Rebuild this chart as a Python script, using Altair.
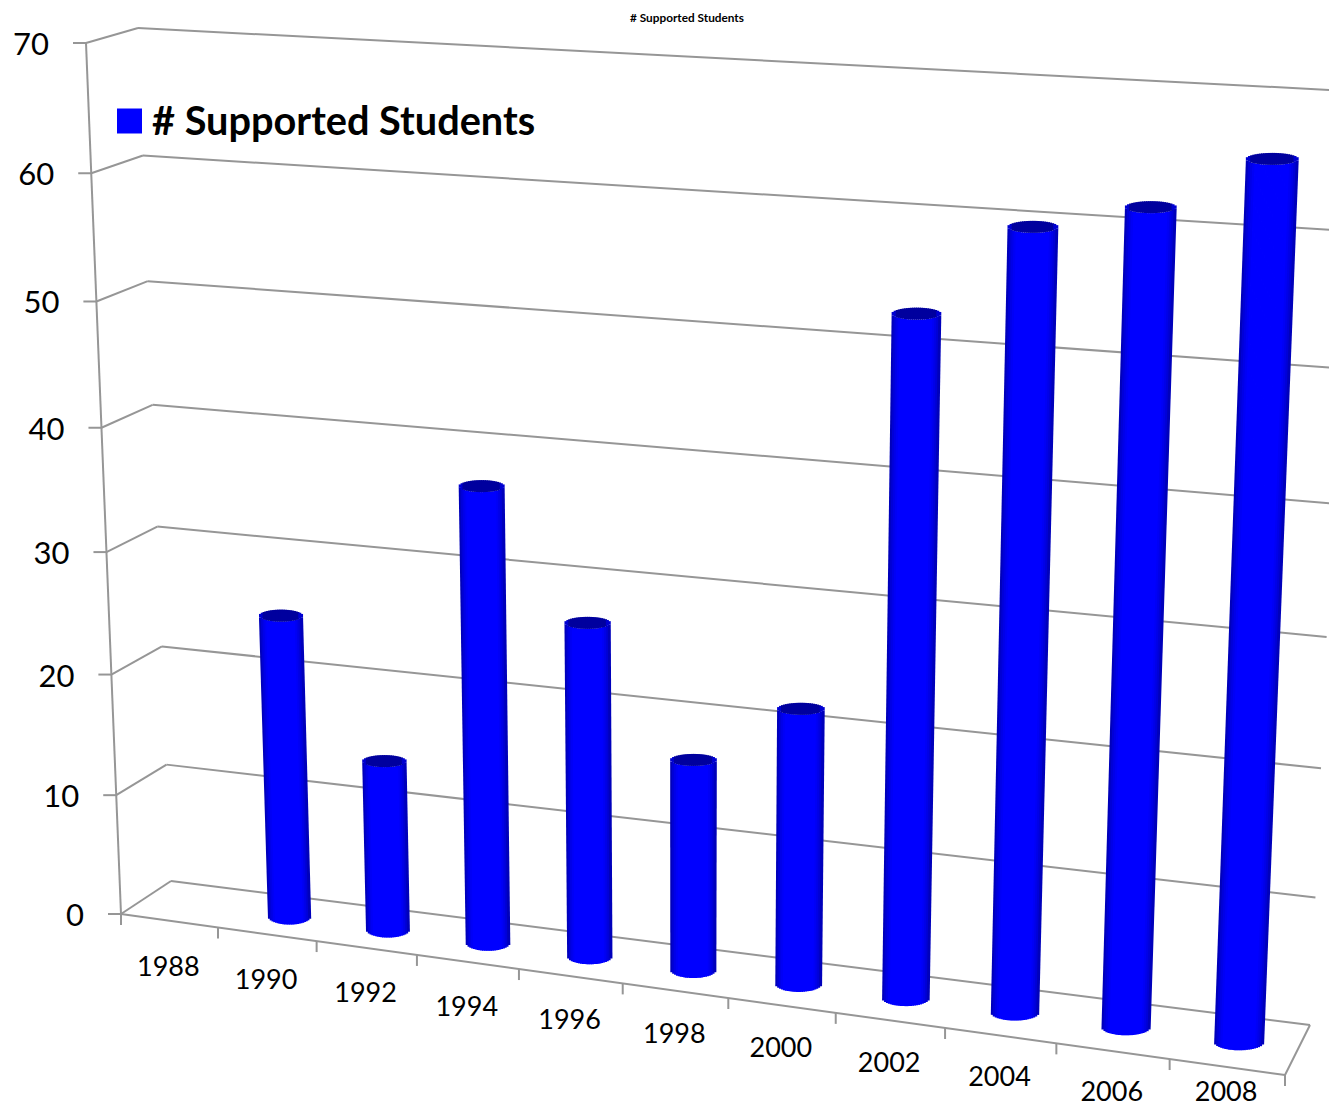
import math
import altair as alt
import pandas as pd

years = [1988, 1990, 1992, 1994, 1996, 1998, 2000, 2002, 2004, 2006, 2008]
students = [0, 25, 14, 37, 27, 17, 22, 53, 60, 62, 66]
y_ticks = [0, 10, 20, 30, 40, 50, 60, 70]
title_text = "# Supported Students"

W, H = 1337, 1118
M = 8
N = len(years)
VMAX = 70

# corners of the 3D box as seen on screen: (u, v, d) -> screen
C = {
    (0, 0, 0): (121, 914), (1, 0, 0): (1285, 1075),
    (0, 1, 0): (86, 43), (1, 1, 0): (1323, 121),
    (0, 0, 1): (171, 881), (1, 0, 1): (1310, 1025),
    (0, 1, 1): (138, 28), (1, 1, 1): (1350, 91),
}


def warp(t, k):
    return t / (t + k * (1 - t))


def P(u, v, d):
    """Perspective projection of category position u (0-1), value v, depth d."""
    a = warp(u, 1.1)
    b = warp(v / VMAX, 1.055)
    x = y = 0.0
    for (i, j, m), (cx, cy) in C.items():
        w = (a if i else 1 - a) * (b if j else 1 - b) * (d if m else 1 - d)
        x += w * cx
        y += w * cy
    return x, y


segs = []


def seg(a, b):
    segs.append({"x": a[0], "y": a[1], "x2": b[0], "y2": b[1]})


for v in y_ticks:
    seg(P(0, v, 0), P(0, v, 1))      # side wall
    seg(P(0, v, 1), P(1, v, 1))      # back wall
    p = P(0, v, 0)
    seg((p[0] - 13, p[1]), p)        # tick
seg(P(0, 0, 0), P(0, VMAX, 0))       # value axis
seg(P(0, 0, 0), P(1, 0, 0))          # floor front edge
seg(P(1, 0, 0), P(1, 0, 1))          # floor right edge
for i in range(N + 1):
    p = P(i / N, 0, 0)
    seg(p, (p[0], p[1] + 11))
grid = pd.DataFrame(segs)

# cylinders drawn as thin vertical strips
strips = []
STRIPS = 24
for i, val in enumerate(students):
    if val <= 0:
        continue
    uc = (i + 0.49) / N
    half = 0.215 / N
    for s in range(STRIPS):
        t = -1 + 2 * (s + 0.5) / STRIPS
        arc = math.sqrt(1 - t * t)
        bl = P(uc - half, 0, 0.5)
        br = P(uc + half, 0, 0.5)
        tl = P(uc - half, val, 0.5)
        tr = P(uc + half, val, 0.5)
        f = (t + 1) / 2
        bx = bl[0] + f * (br[0] - bl[0])
        tx = tl[0] + f * (tr[0] - tl[0])
        by = (bl[1] + br[1]) / 2
        ty = (tl[1] + tr[1]) / 2
        light = 0.58 + 0.42 * min(1, arc * 1.3)
        body = "#0000%02x" % int(255 * light)
        strips.append({"x": tx, "y": ty + 6 * arc, "x2": bx, "y2": by + 8 * arc,
                       "c": body, "o": 0})
        cap = "#0000%02x" % int(255 * (0.62 if arc > 0.5 else 0.82))
        strips.append({"x": tx, "y": ty - 6 * arc, "x2": tx, "y2": ty + 6 * arc,
                       "c": cap, "o": 1})
cyl = pd.DataFrame(strips)

ylab = pd.DataFrame([{"x": P(0, v, 0)[0], "y": P(0, v, 0)[1], "t": str(v)} for v in y_ticks])
xlab = []
for i, yr in enumerate(years):
    u = (i + 0.5) / N
    p = P(u, 0, 0)
    xlab.append({"x": p[0], "y": min(p[1] + 45 - 7 * u, H - M - 20), "t": str(yr)})
xlab = pd.DataFrame(xlab)

xs = alt.Scale(domain=[M, W - M], range=[0, W - 2 * M], nice=False, zero=False)
ys = alt.Scale(domain=[M, H - M], range=[0, H - 2 * M], nice=False, zero=False)
X = alt.X("x:Q", scale=xs, axis=None)
Y = alt.Y("y:Q", scale=ys, axis=None)
FONT = "Lato"

lines = alt.Chart(grid).mark_rule(color="#969696", strokeWidth=2, clip=True).encode(
    x=X, y=Y, x2="x2:Q", y2="y2:Q")
body = alt.Chart(cyl[cyl.o == 0]).mark_rule(strokeWidth=3, clip=True).encode(
    x=X, y=Y, x2="x2:Q", y2="y2:Q", color=alt.Color("c:N", scale=None))
caps = alt.Chart(cyl[cyl.o == 1]).mark_rule(strokeWidth=3, clip=True).encode(
    x=X, y=Y, x2="x2:Q", y2="y2:Q", color=alt.Color("c:N", scale=None))
ytext = alt.Chart(ylab).mark_text(font=FONT, fontSize=31, align="right", baseline="middle",
                                  dx=-37, dy=3, color="#000000").encode(x=X, y=Y, text="t:N")
xtext = alt.Chart(xlab).mark_text(font=FONT, fontSize=27, align="center", baseline="middle",
                                  dx=-1, dy=3, color="#000000").encode(x=X, y=Y, text="t:N")
legend_df = pd.DataFrame({"t": [title_text]})
title = alt.Chart(legend_df).mark_text(font=FONT, fontSize=11.8, fontWeight="bold", align="center",
                                       baseline="middle", color="#000000").encode(
    x=alt.value(687 - M), y=alt.value(18 - M), text="t:N")
swatch = alt.Chart(legend_df).mark_square(size=625, color="#0000ff", opacity=1).encode(
    x=alt.value(129.5 - M), y=alt.value(121 - M))
ltext = alt.Chart(legend_df).mark_text(font=FONT, fontSize=39.7, fontWeight="bold", align="left",
                                       baseline="middle", color="#000000").encode(
    x=alt.value(152 - M), y=alt.value(123 - M), text="t:N")

chart = alt.layer(lines, body, caps, ytext, xtext, title, swatch, ltext).properties(
    width=W - 2 * M, height=H - 2 * M, padding=0,
    autosize=alt.AutoSizeParams(type="none"),
    background="#ffffff",
).configure_view(stroke=None)

chart.save("out.html", embed_options={"renderer": "svg", "actions": False})
